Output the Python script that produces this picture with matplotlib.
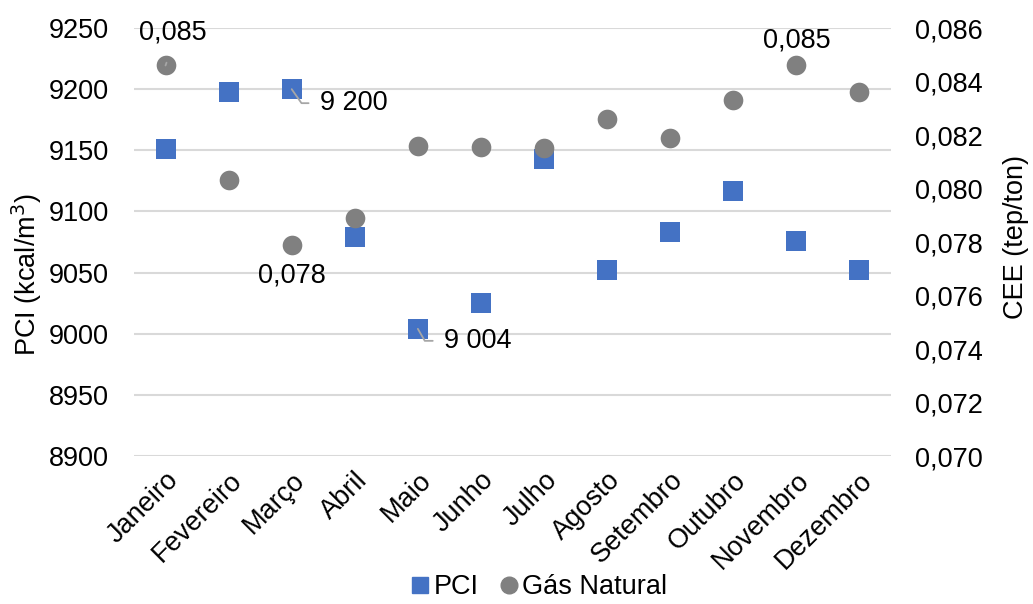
import numpy as np
import matplotlib.pyplot as plt
from matplotlib.ticker import FuncFormatter
from matplotlib.lines import Line2D

plt.rcParams['font.family'] = ['Liberation Sans', 'DejaVu Sans']
plt.rcParams['font.size'] = 19.5

meses = ['Janeiro', 'Fevereiro', 'Março', 'Abril', 'Maio', 'Junho', 'Julho',
         'Agosto', 'Setembro', 'Outubro', 'Novembro', 'Dezembro']
pci = [9151, 9198, 9200, 9079, 9004, 9025, 9143, 9052, 9083, 9117, 9076, 9052]
gas = [0.0846, 0.0803, 0.0779, 0.0789, 0.0816, 0.08155, 0.0815, 0.0826,
       0.0819, 0.0833, 0.0846, 0.0836]

azul = '#4472C4'
cinza = '#808080'
linha = '#A6A6A6'

fig = plt.figure(figsize=(10.33, 6.04), dpi=100)
ax = fig.add_axes([0.1297, 0.245, 0.7328, 0.7086])
ax2 = ax.twinx()

x = np.arange(len(meses))
ax.scatter(x, pci, marker='s', s=210, color=azul, zorder=3, linewidths=0)
ax2.scatter(x, gas, marker='o', s=200, color=cinza, zorder=3, linewidths=0)

ax.set_xlim(-0.5, len(meses) - 0.5)
ax.set_ylim(8900, 9250)
ax.set_yticks(np.arange(8900, 9251, 50))
ax2.set_ylim(0.070, 0.086)
ax2.set_yticks(np.arange(0.070, 0.0861, 0.002))
ax2.yaxis.set_major_formatter(FuncFormatter(lambda v, p: f'{v:.3f}'.replace('.', ',')))

ax.grid(axis='y', color='#D9D9D9', linewidth=1.5, zorder=0)
ax.set_axisbelow(True)
for a in (ax, ax2):
    for s in a.spines.values():
        s.set_visible(False)
    a.tick_params(length=0)
ax.tick_params(axis='y', pad=18)
ax2.tick_params(axis='y', pad=17)

ax.set_xticks(x)
ax.set_xticklabels(meses, rotation=45, ha='right', rotation_mode='anchor')
ax.tick_params(axis='x', pad=8)

ax.set_ylabel('PCI (kcal/m$^3$)', labelpad=5)
ax.yaxis.set_label_coords(-0.119, 0.423)
ax2.set_ylabel('CEE (tep/ton)', labelpad=15)
ax2.yaxis.label.set_y(0.512)

# rótulos de dados
def fmt_pci(v):
    return f'{v:,}'.replace(',', ' ')

def fmt_gas(v):
    return f'{v:.3f}'.replace('.', ',')

ap = dict(arrowstyle='-', color=linha, lw=1.3, shrinkB=0)
i = 2
ax.annotate(fmt_pci(pci[i]), (x[i], pci[i]), xytext=(28, -14), textcoords='offset pixels',
            va='center', ha='left', zorder=4,
            arrowprops=dict(ap, shrinkA=6, relpos=(0, 0.5),
                            connectionstyle='angle,angleA=0,angleB=-55'))
i = 4
ax.annotate(fmt_pci(pci[i]), (x[i], pci[i]), xytext=(26, -12), textcoords='offset pixels',
            va='center', ha='left', zorder=4,
            arrowprops=dict(ap, shrinkA=6, relpos=(0, 0.5),
                            connectionstyle='angle,angleA=0,angleB=-60'))
i = 0
ax2.annotate(fmt_gas(gas[i]), (x[i], gas[i]), xytext=(7, 33), textcoords='offset pixels',
             va='center', ha='center', zorder=4,
             arrowprops=dict(ap, shrinkA=11, relpos=(0.5, 0)))
i = 2
ax2.annotate(fmt_gas(gas[i]), (x[i], gas[i]), xytext=(0, -31), textcoords='offset pixels',
             va='center', ha='center', zorder=4)
i = 10
ax2.annotate(fmt_gas(gas[i]), (x[i], gas[i]), xytext=(0, 25), textcoords='offset pixels',
             va='center', ha='center', zorder=4)

handles = [Line2D([], [], marker='s', color=azul, linestyle='none', markersize=12),
           Line2D([], [], marker='o', color=cinza, linestyle='none', markersize=12)]
fig.legend(handles, ['PCI', 'Gás Natural'], loc='lower center', bbox_to_anchor=(0.52, 0.006),
           ncol=2, frameon=False, handletextpad=0.0, columnspacing=0.6, handlelength=1.0,
           borderaxespad=0, borderpad=0)

fig.savefig('out.png', dpi=100)
